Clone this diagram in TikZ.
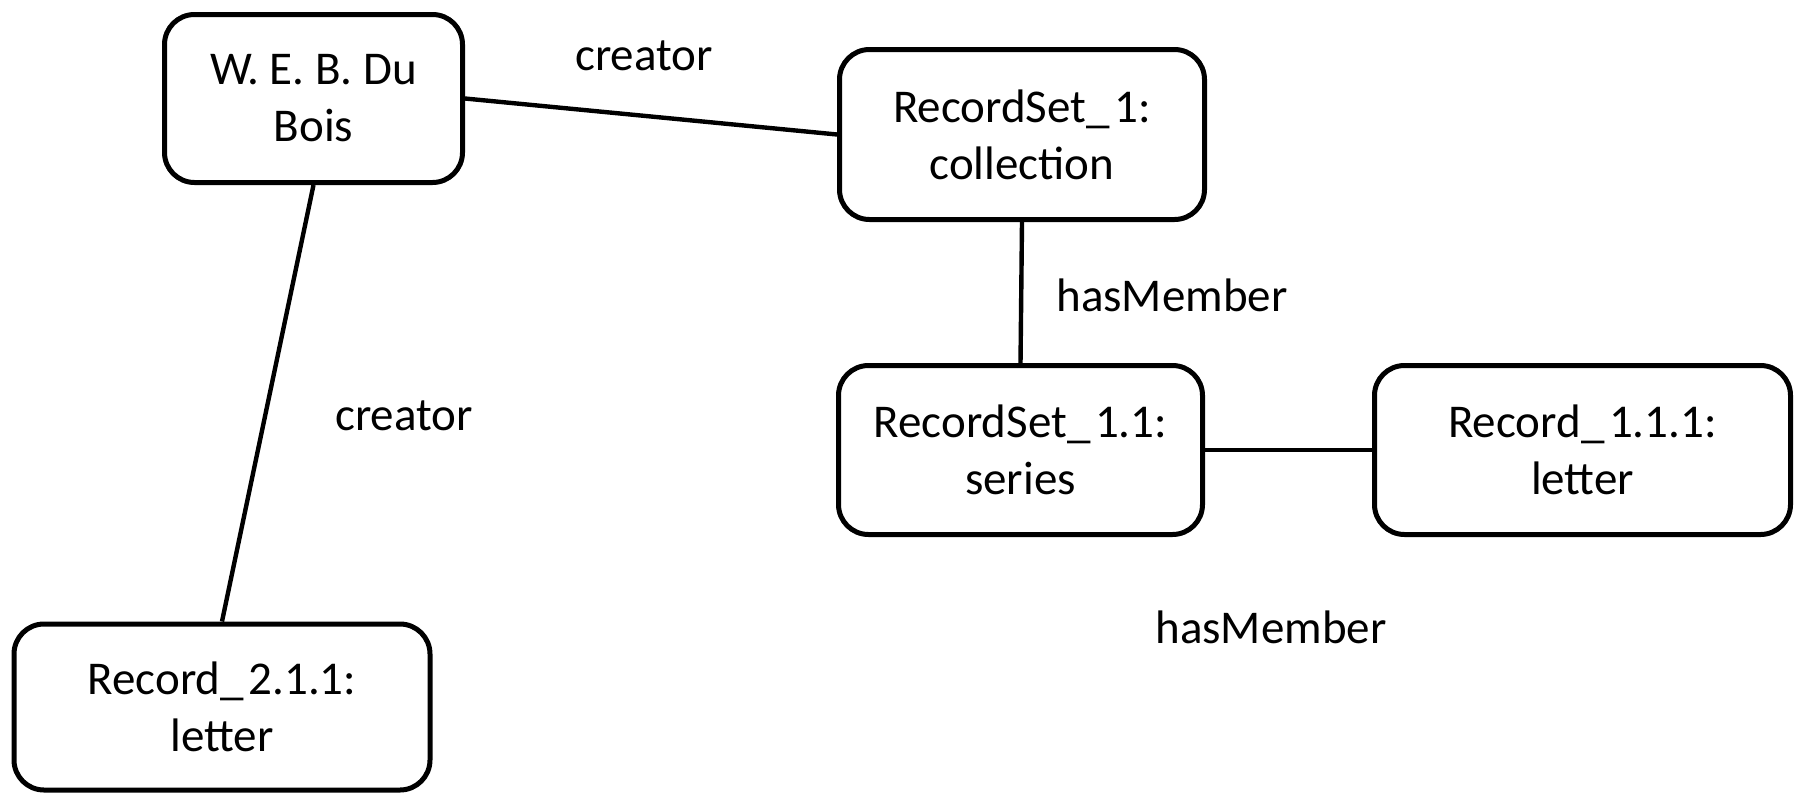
\documentclass[tikz,border=0pt]{standalone}
\usepackage{fontspec}
\setmainfont{Carlito}
% underscore with a little trailing room, as in the identifiers below
\newcommand{\idsep}{\_\kern0.1em}
\begin{document}
\begin{tikzpicture}[x=0.5pt,y=-0.5pt,
  entity/.style={draw=black, line width=2.5pt, rounded corners=15pt, fill=white,
    align=center, inner sep=0pt, font=\fontsize{23.5}{28.5}\selectfont},
  link/.style={draw=black, line width=2.2pt},
  rel/.style={font=\fontsize{23.5}{26}\selectfont, inner sep=0pt}]
  \useasboundingbox (0,0) rectangle (1799,793);
  \node[entity, minimum width=149pt, minimum height=84pt] (dubois) at (313.5,98.5) {W. E. B. Du\\Bois};
  \node[entity, minimum width=182.5pt, minimum height=85pt] (rs1) at (1022,134.5) {RecordSet\idsep 1:\\collection};
  \node[entity, minimum width=182pt, minimum height=84.5pt] (rs11) at (1020.5,450) {RecordSet\idsep 1.1:\\series};
  \node[entity, minimum width=208pt, minimum height=84.5pt] (r111) at (1582.5,450) {Record\idsep 1.1.1:\\letter};
  \node[entity, minimum width=208pt, minimum height=83pt] (r211) at (222,707) {Record\idsep 2.1.1:\\letter};
  \draw[link] (dubois.east) -- (rs1.west);
  \draw[link] (rs1.south) -- (rs11.north);
  \draw[link] (rs11.east) -- (r111.west);
  \draw[link] (dubois.south) -- (r211.north);
  \node[rel] (l1) at (644,56) {creator};
  \node[rel] (l2) at (1172,295.5) {hasMember};
  \node[rel] (l3) at (404,416) {creator};
  \node[rel] (l4) at (1271,627) {hasMember};
\end{tikzpicture}
\end{document}
